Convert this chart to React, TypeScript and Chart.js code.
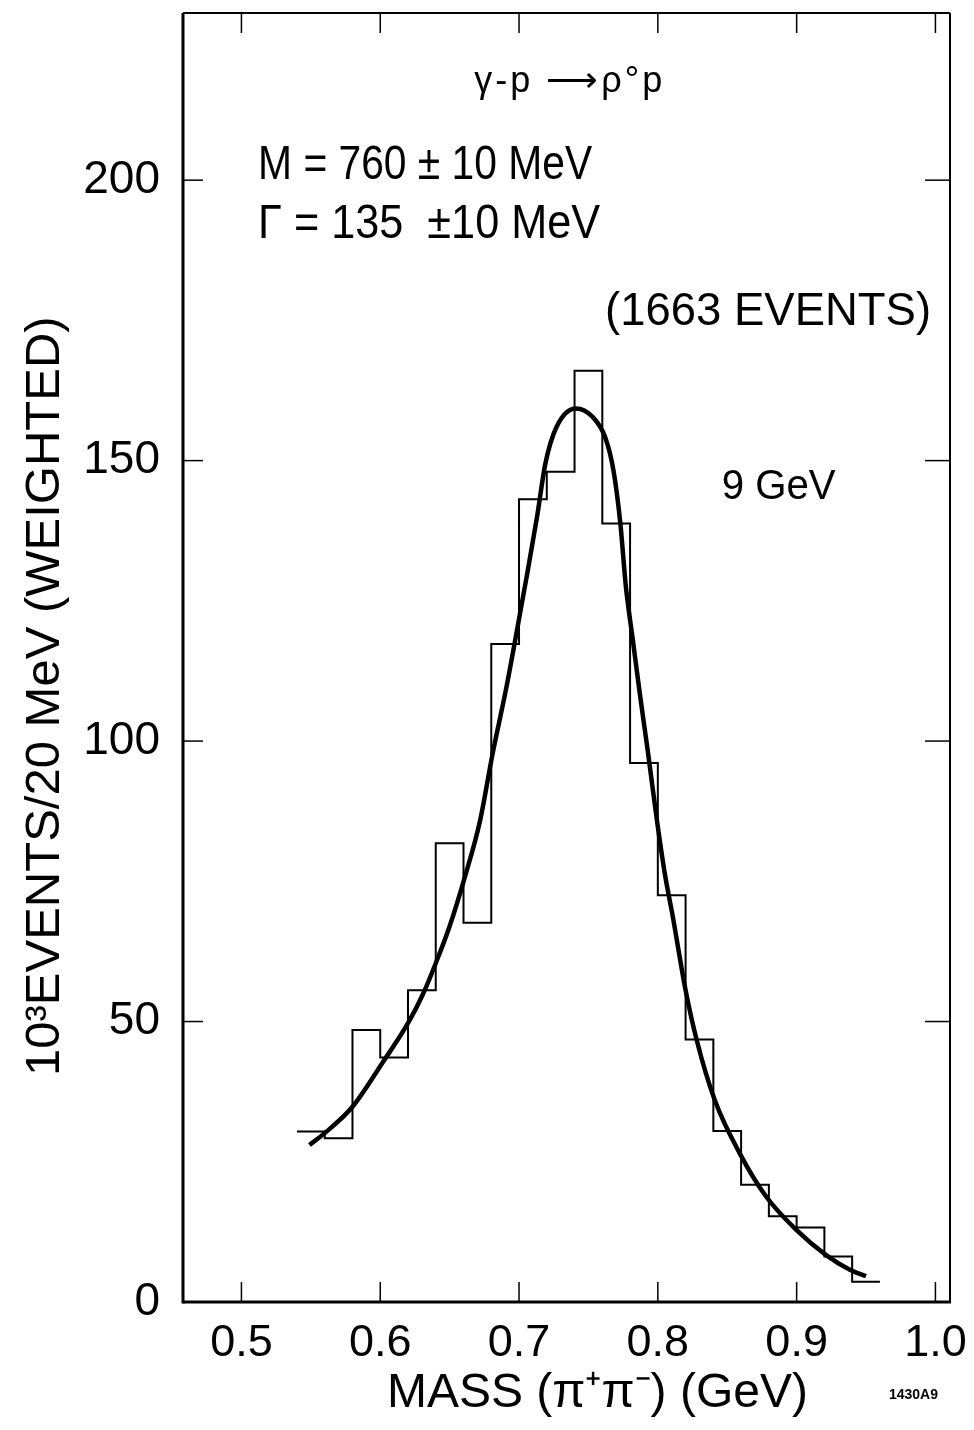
import React, { useEffect, useRef } from "react";
import { Chart, registerables } from "chart.js";

Chart.register(...registerables);

// Histogram: bin edges (GeV) and weighted counts (10^3 events / 20 MeV)
const binEdges = [
  0.54, 0.56, 0.58, 0.6, 0.62, 0.64, 0.66, 0.68, 0.7, 0.72, 0.74,
  0.76, 0.78, 0.8, 0.82, 0.84, 0.86, 0.88, 0.9, 0.92, 0.94, 0.96,
];
const binCounts = [
  30.4, 29.2, 48.5, 43.6, 55.6, 81.8, 67.6, 117.3, 143.1, 148.0, 166.0,
  138.8, 96.1, 72.5, 46.8, 30.5, 20.9, 15.3, 13.3, 8.1, 3.6,
];

// Fitted Breit-Wigner curve
const fitMass = [
  0.549, 0.56, 0.58, 0.602, 0.62, 0.631, 0.64, 0.65, 0.661, 0.672, 0.681,
  0.691, 0.699, 0.706, 0.713, 0.719, 0.727, 0.741, 0.753, 0.762, 0.768,
  0.773, 0.777, 0.782, 0.787, 0.793, 0.799, 0.805, 0.811, 0.82, 0.828,
  0.841, 0.859, 0.878, 0.9, 0.921, 0.938, 0.95,
];
const fitValue = [
  28.0, 30.1, 34.8, 42.8, 49.7, 55.0, 60.4, 67.0, 75.8, 85.9, 97.8,
  109.7, 120.4, 130.0, 140.0, 149.5, 156.0, 159.3, 157.8, 154.2, 148.3,
  138.8, 127.5, 118.0, 108.5, 97.8, 86.5, 76.4, 68.4, 55.6, 46.7,
  36.0, 26.5, 18.8, 12.8, 8.4, 5.8, 4.6,
];

const xTickValues = [0.5, 0.6, 0.7, 0.8, 0.9, 1.0];
const xTickLabels = ["0.5", "0.6", "0.7", "0.8", "0.9", "1.0"];
const yTickValues = [0, 50, 100, 150, 200];
const yTickLabels = ["0", "50", "100", "150", "200"];

const xAxisTitle = "MASS (\u03C0\u207A\u03C0\u207B) (GeV)";
const yAxisTitle = "10\u00B3EVENTS/20 MeV (WEIGHTED)";
const reactionText = "\u03B3-p \u27F6\u03C1\u00B0p";
const massText = "M = 760 \u00B1 10 MeV";
const widthText = "\u0393 = 135  \u00B110 MeV";
const eventsText = "(1663 EVENTS)";
const energyText = "9 GeV";
const figureId = "1430A9";

const FONT = "'Liberation Sans Narrow', 'Liberation Sans', Arial, sans-serif";
const FONT_WIDE = "'Liberation Sans', Arial, sans-serif";

const labelFor = (v: number, values: number[], labels: string[]) => {
  const i = values.findIndex((t) => Math.abs(t - v) < 1e-6);
  return i >= 0 ? labels[i] : "";
};

const framePlugin = {
  id: "frameAndNotes",
  afterDraw(chart: any) {
    const { ctx, chartArea: a, scales } = chart;
    const xs = scales.x;
    const ys = scales.y;
    const seg = (x1: number, y1: number, x2: number, y2: number) => {
      ctx.beginPath();
      ctx.moveTo(x1, y1);
      ctx.lineTo(x2, y2);
      ctx.stroke();
    };
    ctx.save();
    ctx.strokeStyle = "#000";
    ctx.fillStyle = "#000";
    // frame
    ctx.lineWidth = 3;
    seg(a.left, a.top, a.left, a.bottom + 1.5);
    seg(a.left, a.bottom, a.right + 1, a.bottom);
    ctx.lineWidth = 2;
    seg(a.left, a.top, a.right, a.top);
    seg(a.right, a.top, a.right, a.bottom);
    // inward ticks
    ctx.lineWidth = 1.5;
    xTickValues.forEach((v) => {
      const px = xs.getPixelForValue(v);
      seg(px, a.bottom, px, a.bottom - 20);
      seg(px, a.top, px, a.top + 20);
    });
    yTickValues.forEach((v) => {
      if (v === 0) return;
      const py = ys.getPixelForValue(v);
      seg(a.left, py, a.left + 20, py);
      seg(a.right, py, a.right - 25, py);
    });

    // annotations (anchored in data coordinates)
    const note = (
      text: string,
      mx: number,
      vy: number,
      size: number,
      align: CanvasTextAlign,
      maxW: number,
      family = FONT,
      spacing = "0px"
    ) => {
      ctx.font = `${size}px ${family}`;
      ctx.textAlign = align;
      ctx.textBaseline = "middle";
      (ctx as any).letterSpacing = spacing;
      ctx.fillText(text, xs.getPixelForValue(mx), ys.getPixelForValue(vy), maxW);
      (ctx as any).letterSpacing = "0px";
    };
    note(reactionText, 0.7365, 217.5, 36, "center", 206, FONT_WIDE, "3px");
    note(massText, 0.512, 202.5, 48, "left", 334);
    note(widthText, 0.512, 192.0, 48, "left", 342);
    note(eventsText, 0.762, 176.5, 46, "left", 326);
    note(energyText, 0.846, 145.3, 42, "left", 114);

    // y axis title (rotated)
    ctx.save();
    ctx.translate(37, ys.getPixelForValue(108));
    ctx.rotate(-Math.PI / 2);
    ctx.font = `49px ${FONT}`;
    ctx.textAlign = "center";
    ctx.textBaseline = "middle";
    ctx.fillText(yAxisTitle, 0, 0, 760);
    ctx.restore();

    // x axis title
    ctx.font = `48px ${FONT}`;
    ctx.textAlign = "center";
    ctx.textBaseline = "middle";
    ctx.fillText(xAxisTitle, xs.getPixelForValue(0.7565), a.bottom + 92, 424);

    // figure id
    ctx.font = `bold 14px ${FONT_WIDE}`;
    ctx.textAlign = "left";
    ctx.fillText(figureId, xs.getPixelForValue(0.9665), a.bottom + 93, 62);
    ctx.restore();
  },
};

export default function App() {
  const canvasRef = useRef<HTMLCanvasElement | null>(null);

  useEffect(() => {
    const canvas = canvasRef.current;
    if (!canvas) return;
    const histData = binEdges.map((e, i) => ({
      x: e,
      y: binCounts[Math.min(i, binCounts.length - 1)],
    }));
    const fitData = fitMass.map((m, i) => ({ x: m, y: fitValue[i] }));

    const chart = new Chart(canvas, {
      type: "line",
      data: {
        datasets: [
          {
            label: "histogram",
            data: histData,
            stepped: true,
            borderColor: "#000",
            borderWidth: 2,
            pointRadius: 0,
            fill: false,
          },
          {
            label: "fit",
            data: fitData,
            borderColor: "#000",
            borderWidth: 4.5,
            pointRadius: 0,
            cubicInterpolationMode: "monotone",
            fill: false,
          },
        ],
      },
      options: {
        responsive: false,
        animation: false,
        events: [],
        layout: { padding: { top: 5, right: 16, left: 0, bottom: 0 } },
        plugins: {
          legend: { display: false },
          tooltip: { enabled: false },
          title: { display: false },
        },
        scales: {
          x: {
            type: "linear",
            min: 0.4579,
            max: 1.0105,
            grid: { display: false, drawTicks: false },
            border: { display: false },
            afterBuildTicks: (s: any) => {
              s.ticks = xTickValues.map((v) => ({ value: v }));
            },
            afterFit: (s: any) => {
              s.height = 120;
              s.paddingLeft = 0;
              s.paddingRight = 0;
              s.paddingTop = 0;
              s.paddingBottom = 0;
            },
            ticks: {
              autoSkip: false,
              maxRotation: 0,
              minRotation: 0,
              padding: 15,
              color: "#000",
              font: { family: FONT_WIDE, size: 45 },
              callback: (v: any) => labelFor(Number(v), xTickValues, xTickLabels),
            },
          },
          y: {
            type: "linear",
            min: 0,
            max: 229.8,
            grid: { display: false, drawTicks: false },
            border: { display: false },
            afterBuildTicks: (s: any) => {
              s.ticks = yTickValues.map((v) => ({ value: v }));
            },
            afterFit: (s: any) => {
              s.width = 175;
              s.paddingLeft = 0;
              s.paddingRight = 0;
              s.paddingTop = 0;
              s.paddingBottom = 0;
            },
            ticks: {
              autoSkip: false,
              padding: 23,
              color: "#000",
              font: { family: FONT_WIDE, size: 46 },
              callback: (v: any) => labelFor(Number(v), yTickValues, yTickLabels),
            },
          },
        },
      },
      plugins: [framePlugin],
    });
    return () => chart.destroy();
  }, []);

  return (
    <div style={{ width: 958, height: 1414 }}>
      <canvas ref={canvasRef} width={958} height={1414} style={{ display: "block" }} />
    </div>
  );
}
